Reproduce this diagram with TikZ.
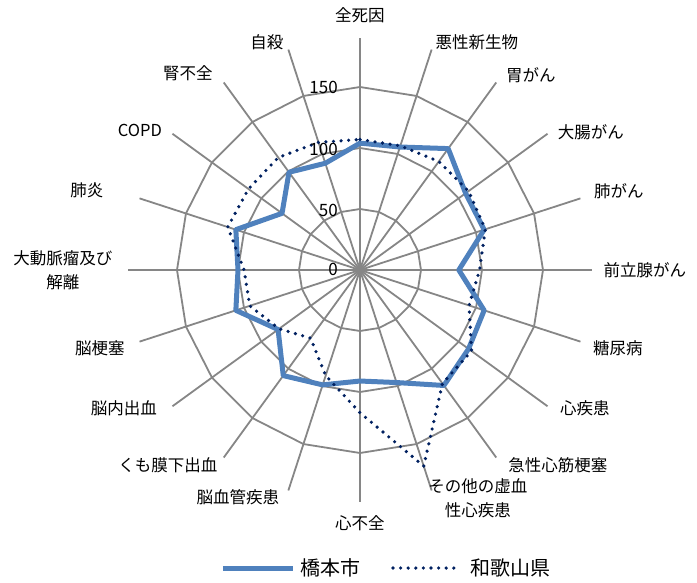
\documentclass[tikz,border=0pt]{standalone}
\usepackage{fontspec}
\setmainfont{Noto Sans CJK JP}
\definecolor{gridgray}{RGB}{134,134,134}
\definecolor{cityblue}{RGB}{79,129,189}
\definecolor{prefnavy}{RGB}{0,32,96}
\tikzset{
  gridline/.style={draw=gridgray, line width=1.8pt},
  cityline/.style={draw=cityblue, line width=5pt, line join=round},
  prefline/.style={draw=prefnavy, line width=3.6pt, line cap=round,
    dash pattern=on 0pt off 7.6pt},
  axislabel/.style={inner sep=0pt, align=center, font=\fontsize{16.5}{24}\selectfont},
  ticklabel/.style={inner sep=0pt, anchor=east, font=\fontsize{17}{20}\selectfont},
  legendtext/.style={inner sep=0pt, anchor=west, font=\fontsize{20}{24}\selectfont}
}
\begin{document}
\begin{tikzpicture}[x=1pt,y=1pt]
\useasboundingbox (-360,-312) rectangle (337,270);
\coordinate (ctr) at (0,0);

% Netz
\begin{scope}[x=1.22pt,y=1.22pt]
\foreach \v in {50,100,150}
  \draw[gridline] (90:\v) \foreach \a in {72,54,...,-252}{ -- (\a:\v)} -- cycle;
\foreach \a in {90,72,...,-252}
  \draw[gridline] (ctr) -- (\a:190);

% Hashimoto
\draw[cityline] (90:104) -- (72:106) -- (54:123) -- (36:107) -- (18:107)
  -- (0:81) -- (-18:107) -- (-36:110) -- (-54:117) -- (-72:97)
  -- (-90:91) -- (-108:99) -- (-126:107) -- (-144:83) -- (-162:107)
  -- (-180:100) -- (-198:107) -- (-216:79) -- (-234:99) -- (-252:92) -- cycle;

% Wakayama
\draw[prefline] (90:107) -- (72:107) -- (54:110) -- (36:110) -- (18:108)
  -- (0:98) -- (-18:94) -- (-36:113) -- (-54:115) -- (-72:169)
  -- (-90:117) -- (-108:91) -- (-126:69) -- (-144:82) -- (-162:95)
  -- (-180:95) -- (-198:114) -- (-216:113) -- (-234:114) -- (-252:110) -- cycle;
\end{scope}

% Skala
\node[ticklabel] (t0)   at (-22,1)   {0};
\node[ticklabel] (t50)  at (-22,60)  {50};
\node[ticklabel] (t100) at (-22,121) {100};
\node[ticklabel] (t150) at (-22,183) {150};

% Achsen
\node[axislabel] (l1)  at (0,255)     {全死因};
\node[axislabel] (l2)  at (117,228)   {悪性新生物};
\node[axislabel] (l3)  at (171,195)   {胃がん};
\node[axislabel] (l4)  at (231,138)   {大腸がん};
\node[axislabel] (l5)  at (259,79)    {肺がん};
\node[axislabel] (l6)  at (285,0)     {前立腺がん};
\node[axislabel] (l7)  at (258,-78)   {糖尿病};
\node[axislabel] (l8)  at (225,-138)  {心疾患};
\node[axislabel] (l9)  at (198,-195)  {急性心筋梗塞};
\node[axislabel] (l10) at (118,-228)  {その他の虚血\\性心疾患};
\node[axislabel] (l11) at (0,-253)    {心不全};
\node[axislabel] (l12) at (-122,-227) {脳血管疾患};
\node[axislabel] (l13) at (-192,-195) {くも膜下出血};
\node[axislabel] (l14) at (-236,-138) {脳内出血};
\node[axislabel] (l15) at (-260,-78)  {脳梗塞};
\node[axislabel] (l16) at (-297,0)    {大動脈瘤及び\\解離};
\node[axislabel] (l17) at (-273,80)   {肺炎};
\node[axislabel] (l18) at (-220,140)  {COPD};
\node[axislabel] (l19) at (-172,197)  {腎不全};
\node[axislabel] (l20) at (-93,228)   {自殺};

% Legende
\coordinate (k1a) at (-137,-298);
\coordinate (k1b) at (-67,-298);
\coordinate (k2a) at (33,-298);
\coordinate (k2b) at (98,-298);
\draw[cityline] (k1a) -- (k1b);
\node[legendtext] (k1) at (-60,-298) {橋本市};
\draw[prefline] (k2a) -- (k2b);
\node[legendtext] (k2) at (110,-298) {和歌山県};

\end{tikzpicture}
\end{document}
